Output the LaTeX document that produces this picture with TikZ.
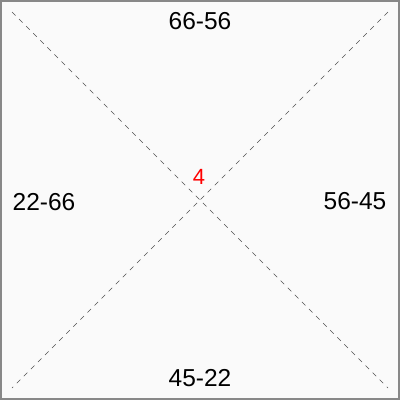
\documentclass[tikz,border=0pt]{standalone}
\usepackage{fontspec}
\setmainfont{Liberation Sans}
\definecolor{bordergray}{RGB}{136,136,136}
\definecolor{bggray}{RGB}{250,250,250}
\definecolor{linegray}{RGB}{80,80,80}
\tikzset{
  lbl/.style={font=\fontsize{24.5}{24.5}\selectfont, text=black, inner sep=0pt, anchor=center},
  redlbl/.style={font=\fontsize{22}{22}\selectfont, text=red, inner sep=0pt, anchor=center},
  diag/.style={draw=linegray, line width=0.6pt, dash pattern=on 5pt off 5pt},
}
\begin{document}
\begin{tikzpicture}[x=1pt,y=-1pt]
\useasboundingbox (0,0) rectangle (400,400);
\fill[bggray] (0,0) rectangle (400,400);
\draw[bordergray, line width=2pt] (1,1) rectangle (399,399);
\coordinate (tl) at (12,12);
\coordinate (tr) at (388,12);
\coordinate (bl) at (12,388);
\coordinate (br) at (388,388);
\draw[diag] (tl) -- (br);
\draw[diag] (tr) -- (bl);
\node[lbl] (top) at (200,21) {66-56};
\node[lbl] (bottom) at (200,378) {45-22};
\node[lbl] (left) at (44,202) {22-66};
\node[lbl] (right) at (355,201) {56-45};
\node[redlbl] (mid) at (199,177) {4};
\end{tikzpicture}
\end{document}
